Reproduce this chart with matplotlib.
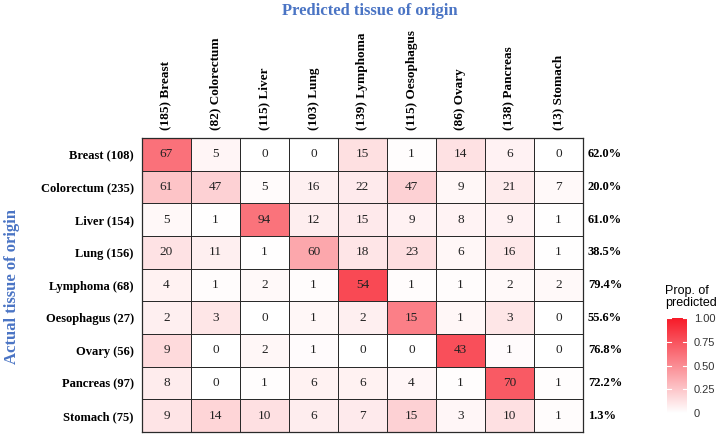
import numpy as np
import matplotlib
matplotlib.use("Agg")
import matplotlib.pyplot as plt
from matplotlib.colors import LinearSegmentedColormap

# tissue classes (rows = actual, columns = predicted)
tissues = ["Breast", "Colorectum", "Liver", "Lung", "Lymphoma",
           "Oesophagus", "Ovary", "Pancreas", "Stomach"]

counts = np.array([
    [67, 5, 0, 0, 15, 1, 14, 6, 0],
    [61, 47, 5, 16, 22, 47, 9, 21, 7],
    [5, 1, 94, 12, 15, 9, 8, 9, 1],
    [20, 11, 1, 60, 18, 23, 6, 16, 1],
    [4, 1, 2, 1, 54, 1, 1, 2, 2],
    [2, 3, 0, 1, 2, 15, 1, 3, 0],
    [9, 0, 2, 1, 0, 0, 43, 1, 0],
    [8, 0, 1, 6, 6, 4, 1, 70, 1],
    [9, 14, 10, 6, 7, 15, 3, 10, 1],
])

row_tot = counts.sum(axis=1)
col_tot = counts.sum(axis=0)
prop = counts / row_tot[:, None]
acc = np.diag(counts) / row_tot

serif = "Liberation Serif"
sans = "Liberation Sans"
blue = "#4a74c4"

cmap = LinearSegmentedColormap.from_list("wr", ["#ffffff", "#f71a28"])

fig = plt.figure(figsize=(7.24, 4.36), dpi=100)
ax = fig.add_axes([142 / 724, 1 - 432 / 436, 441 / 724, 294 / 436])

n = len(tissues)
ax.pcolormesh(np.arange(n + 1), np.arange(n + 1), prop, cmap=cmap, vmin=0, vmax=1,
              edgecolor="#2a2a2a", linewidth=0.6)
ax.set_xlim(0, n)
ax.set_ylim(n, 0)

for i in range(n):
    for j in range(n):
        ax.text(j + 0.5, i + 0.5, str(counts[i, j]), ha="center", va="center",
                fontsize=9.5, family=serif, color="#222222")
    ax.text(n + 0.1, i + 0.5, f"{acc[i] * 100:.1f}%", ha="left", va="center",
            fontsize=9, family=serif, fontweight="bold")

ax.set_xticks(np.arange(n) + 0.5)
ax.set_xticklabels([f"({c}) {t}" for c, t in zip(col_tot, tissues)], rotation=90,
                   family=serif, fontweight="bold", fontsize=9.5)
ax.xaxis.tick_top()
ax.set_yticks(np.arange(n) + 0.5)
ax.set_yticklabels([f"{t} ({r})" for t, r in zip(tissues, row_tot)],
                   family=serif, fontweight="bold", fontsize=9)
ax.tick_params(length=0, pad=6)
for s in ax.spines.values():
    s.set_color("#2a2a2a")
    s.set_linewidth(0.9)

fig.text(370 / 724, 1 - 11 / 436, "Predicted tissue of origin", ha="center", va="center",
         color=blue, family=serif, fontweight="bold", fontsize=12)
fig.text(12 / 724, 1 - 287 / 436, "Actual tissue of origin", ha="center", va="center",
         rotation=90, color=blue, family=serif, fontweight="bold", fontsize=12)

# colour bar
cax = fig.add_axes([667 / 724, 1 - 413 / 436, 20 / 724, 95 / 436])
grad = np.linspace(0, 1, 256)[:, None]
cax.imshow(grad, cmap=cmap, aspect="auto", origin="lower", extent=[0, 1, 0, 1])
cax.set_xlim(0, 1)
cax.set_ylim(0, 1)
cbar_ticks = [0, 0.25, 0.5, 0.75, 1.0]
for t in cbar_ticks:
    cax.plot([0, 0.2], [t, t], color="white", lw=0.8)
    cax.plot([0.8, 1], [t, t], color="white", lw=0.8)
cax.set_xticks([])
cax.yaxis.tick_right()
cax.set_yticks(cbar_ticks)
cax.set_yticklabels(["0", "0.25", "0.50", "0.75", "1.00"], family=sans, fontsize=8,
                    color="#333333")
cax.tick_params(length=0, pad=5)
for s in cax.spines.values():
    s.set_visible(False)
fig.text(665 / 724, 1 - 297 / 436, "Prop. of\npredicted", ha="left", va="center",
         family=sans, fontsize=9, linespacing=1.1)

fig.savefig("out.png", dpi=100)
